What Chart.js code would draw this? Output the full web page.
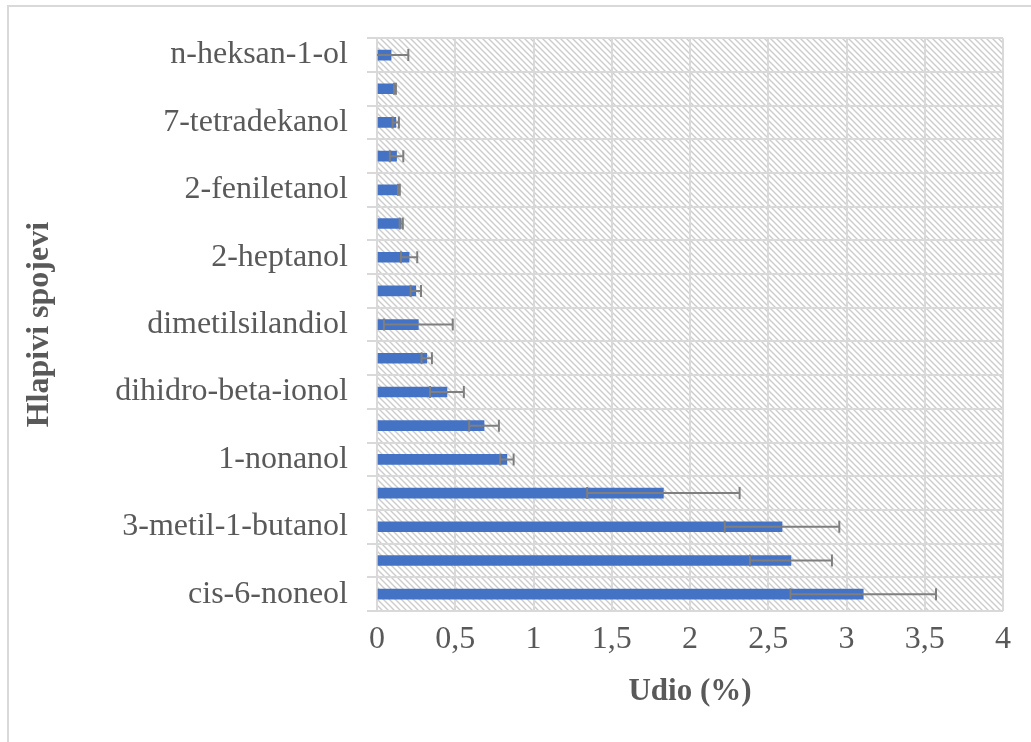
<!DOCTYPE html>
<html>
<head>
<meta charset="utf-8">
<script src="https://cdn.jsdelivr.net/npm/chart.js@4.4.1/dist/chart.umd.min.js"></script>
<style>
  html, body { margin: 0; padding: 0; background: #fff; overflow: hidden; }
  .frame { position: absolute; left: 7px; top: 5px; width: 1100px; height: 800px;
           border-left: 2px solid #d9d9d9; border-top: 2px solid #d9d9d9; }
  .wrap { position: absolute; left: 0; top: 0; width: 1031px; height: 742px; }
</style>
</head>
<body>
<div class="frame"></div>
<div class="wrap"><canvas id="chart"></canvas></div>
<script>
'use strict'

// kategorije (skrivene oznake su prazne)
const labels = ['n-heksan-1-ol', '', '7-tetradekanol', '', '2-feniletanol', '', '2-heptanol', '',
  'dimetilsilandiol', '', 'dihidro-beta-ionol', '', '1-nonanol', '', '3-metil-1-butanol', '', 'cis-6-noneol'];
// udio (%)
const means = [0.09, 0.115, 0.12, 0.125, 0.14, 0.155, 0.205, 0.248, 0.264, 0.318, 0.447, 0.684, 0.83, 1.83, 2.588, 2.645, 3.107];
// standardna devijacija
const errs = [0.11, 0.006, 0.02, 0.043, 0.006, 0.01, 0.052, 0.033, 0.22, 0.033, 0.108, 0.095, 0.043, 0.487, 0.366, 0.262, 0.465];
const xTicks = [0, 0.5, 1, 1.5, 2, 2.5, 3, 3.5, 4];

const textColor = '#595959';
const gridColor = '#d9d9d9';
const serif = "'Liberation Serif', 'Times New Roman', serif";

//šrafura pozadine
function makeHatch(){
  const c = document.createElement('canvas');
  c.width = 6; c.height = 6;
  const g = c.getContext('2d');
  g.fillStyle = '#ffffff';
  g.fillRect(0, 0, 6, 6);
  g.strokeStyle = '#cccccc';
  g.lineWidth = 1.4;
  g.beginPath();
  g.moveTo(-1, -1); g.lineTo(7, 7);
  g.moveTo(-4, 2); g.lineTo(4, 10);
  g.moveTo(2, -4); g.lineTo(10, 4);
  g.stroke();
  return g.createPattern(c, 'repeat');
}

const hatchBg = {
  id: 'hatchBg',
  beforeDraw(chart){
    const {ctx, chartArea: a} = chart;
    ctx.save();
    ctx.fillStyle = makeHatch();
    ctx.fillRect(a.left, a.top, a.right - a.left, a.bottom - a.top);
    ctx.restore();
  }
};

//error bar crtanje
const errorBars = {
  id: 'errorBars',
  afterDatasetsDraw(chart){
    const {ctx, chartArea: a} = chart;
    const x = chart.scales.x;
    const meta = chart.getDatasetMeta(0);
    ctx.save();
    ctx.beginPath();
    ctx.rect(a.left, a.top, a.right - a.left, a.bottom - a.top);
    ctx.clip();
    ctx.strokeStyle = '#7f7f7f';
    ctx.lineWidth = 2;
    meta.data.forEach((bar, i) => {
      const y = bar.y;
      const x1 = x.getPixelForValue(means[i] - errs[i]);
      const x2 = x.getPixelForValue(means[i] + errs[i]);
      ctx.beginPath();
      ctx.moveTo(x1, y); ctx.lineTo(x2, y);
      ctx.moveTo(x1, y - 6); ctx.lineTo(x1, y + 6);
      ctx.moveTo(x2, y - 6); ctx.lineTo(x2, y + 6);
      ctx.stroke();
    });
    ctx.restore();
  }
};

new Chart(document.getElementById('chart'), {
  type: 'bar',
  data: {
    labels: labels,
    datasets: [{
      data: means,
      backgroundColor: '#4472c4',
      barThickness: 10
    }]
  },
  plugins: [hatchBg, errorBars],
  options: {
    indexAxis: 'y',
    responsive: true,
    maintainAspectRatio: false,
    animation: false,
    layout: { padding: { left: 0, top: 34, right: 28, bottom: 0 } },
    plugins: { legend: { display: false }, tooltip: { enabled: false } },
    scales: {
      x: {
        min: 0,
        max: 4,
        afterFit(scale){ scale.height = 131; },
        afterBuildTicks(scale){ scale.ticks = xTicks.map(v => ({ value: v })); },
        grid: { color: gridColor, lineWidth: 2, drawTicks: false },
        border: { display: false },
        ticks: {
          padding: 9,
          color: textColor,
          font: { family: serif, size: 32 },
          callback: (v) => String(v).replace('.', ',')
        },
        title: {
          display: true,
          text: 'Udio (%)',
          color: textColor,
          font: { family: serif, size: 31, weight: 'bold' },
          padding: { top: 0, bottom: 31 }
        }
      },
      y: {
        afterFit(scale){ scale.width = 377; },
        grid: { color: gridColor, lineWidth: 2, tickLength: 10, offset: true },
        border: { display: false },
        ticks: {
          autoSkip: false,
          padding: 19,
          color: textColor,
          font: { family: serif, size: 32 },
          callback: function(v, i){ return labels[i]; }
        },
        title: {
          display: true,
          text: 'Hlapivi spojevi',
          color: textColor,
          font: { family: serif, size: 32, weight: 'bold' },
          padding: { top: 21, bottom: 0 }
        }
      }
    }
  }
});
</script>
</body>
</html>
